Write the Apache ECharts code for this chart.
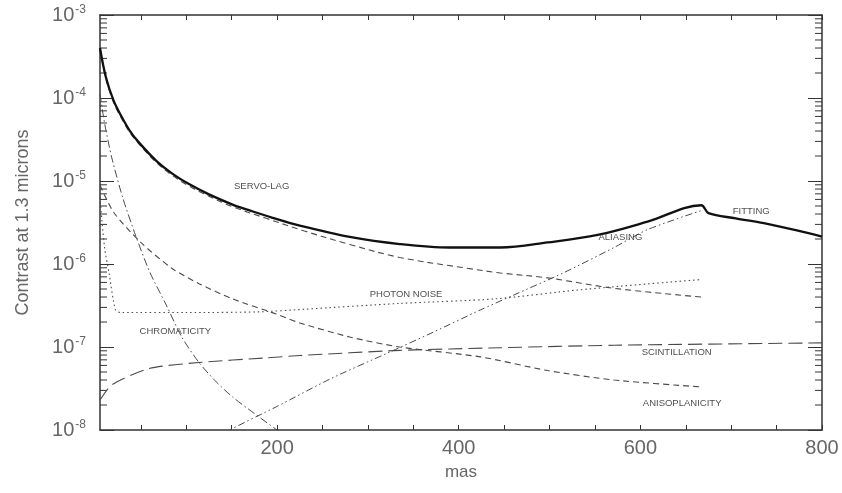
<!DOCTYPE html>
<html><head><meta charset="utf-8">
<script src="https://cdn.jsdelivr.net/npm/echarts@6/dist/echarts.min.js"></script>
<style>html,body{margin:0;padding:0;background:#fff}#c{width:842px;height:493px}</style>
</head><body><div id="c"></div>
<script>
// ---- data (x in mas, y = contrast) ----
const totalX = [5, 11.5, 20, 29, 38, 48, 67, 85, 103, 125, 151, 169, 195, 225, 280, 335, 390, 446, 498, 553, 608, 667, 675, 705, 736, 770, 800];
const totalY = [4.0e-4, 1.78e-4, 9.3e-5, 5.9e-5, 4.0e-5, 2.9e-5, 1.75e-5, 1.22e-5, 9.2e-6, 6.9e-6, 5.2e-6, 4.45e-6, 3.6e-6, 2.9e-6, 2.12e-6, 1.74e-6, 1.58e-6, 1.58e-6, 1.82e-6, 2.24e-6, 3.24e-6, 5.1e-6, 4.1e-6, 3.55e-6, 3.1e-6, 2.57e-6, 2.14e-6];

const servoX = [5, 11.5, 20, 29, 38, 48, 67, 85, 103, 125, 151, 188, 230, 280, 335, 409, 446, 498, 571, 667];
const servoY = [3.8e-4, 1.7e-4, 8.8e-5, 5.6e-5, 3.8e-5, 2.78e-5, 1.67e-5, 1.16e-5, 8.7e-6, 6.55e-6, 4.9e-6, 3.55e-6, 2.5e-6, 1.72e-6, 1.2e-6, 8.9e-7, 7.8e-7, 6.8e-7, 5.1e-7, 4.0e-7];

const chromX = [5, 10, 18, 30, 44, 60, 78, 95, 114, 133, 151, 175, 200, 215];
const chromY = [1.12e-4, 5.0e-5, 1.9e-5, 6.3e-6, 2.24e-6, 7.9e-7, 3.2e-7, 1.32e-7, 6.5e-8, 3.8e-8, 2.5e-8, 1.58e-8, 1.0e-8, 7.9e-9];

const photonX = [5, 10, 15, 22, 28, 100, 180, 230, 335, 440, 534, 667];
const photonY = [6.3e-6, 1.58e-6, 7.8e-7, 2.8e-7, 2.6e-7, 2.6e-7, 2.65e-7, 2.85e-7, 3.35e-7, 3.8e-7, 4.9e-7, 6.5e-7];

const scintX = [5, 18, 59, 114, 188, 225, 335, 446, 571, 800];
const scintY = [2.3e-8, 3.5e-8, 5.5e-8, 6.5e-8, 7.4e-8, 7.9e-8, 9.1e-8, 9.8e-8, 1.05e-7, 1.12e-7];

const anisoX = [5, 20, 50, 84, 114, 151, 199, 225, 280, 335, 424, 498, 571, 667];
const anisoY = [8.9e-6, 4.2e-6, 1.82e-6, 8.9e-7, 5.8e-7, 3.8e-7, 2.5e-7, 1.95e-7, 1.32e-7, 1.0e-7, 7.6e-8, 5.2e-8, 4.0e-8, 3.3e-8];

const aliasX = [140, 148, 199, 260, 320, 372, 424, 460, 515, 571, 608, 667];
const aliasY = [8.5e-9, 1.0e-8, 1.9e-8, 4.2e-8, 8.3e-8, 1.51e-7, 2.8e-7, 4.2e-7, 7.8e-7, 1.58e-6, 2.6e-6, 4.4e-6];

const labelNames = ['SERVO-LAG', 'ALIASING', 'FITTING', 'PHOTON NOISE', 'CHROMATICITY', 'SCINTILLATION', 'ANISOPLANICITY'];
const labelX = [183, 578, 722, 342, 88, 640, 646];
const labelY = [8.5e-6, 2.1e-6, 4.3e-6, 4.3e-7, 1.55e-7, 8.5e-8, 2.1e-8];

const xTickValues = [50, 100, 150, 200, 250, 300, 350, 400, 450, 500, 550, 600, 650, 700, 750, 800];
const xLabelValues = [200, 400, 600, 800];
const X_MIN = 5, X_MAX = 800, Y_MIN = 1e-8, Y_MAX = 1e-3;

// ---- build ----
const pair = (xs, ys) => xs.map((x, i) => [x, ys[i]]);
const minorVals = [];
for (let e = -8; e < -3; e++) for (let m = 2; m <= 9; m++) minorVals.push([X_MIN, m * Math.pow(10, e)]);

const grey = '#4a4a4a';
function lineSeries(name, xs, ys, dash, width, color, smooth) {
  return {
    name, type: 'line', data: pair(xs, ys), showSymbol: false, symbol: 'none',
    smooth: smooth || 0.25, clip: true,
    lineStyle: { color: color || grey, width: width || 1.1, type: dash || 'solid', cap: 'butt' },
    z: 3
  };
}
const axisCol = '#333';
const chart = echarts.init(document.getElementById('c'), null, { renderer: 'canvas' });
chart.setOption({
  animation: false,
  backgroundColor: '#fff',
  grid: { left: 100, right: 20, top: 15, bottom: 63, containLabel: false },
  xAxis: [{
    type: 'value', min: X_MIN, max: X_MAX, position: 'bottom',
    name: 'mas', nameLocation: 'middle', nameGap: 34,
    nameTextStyle: { fontSize: 17, color: '#666', fontFamily: 'Liberation Sans' },
    axisLine: { show: true, onZero: false, lineStyle: { color: axisCol, width: 1.5 } },
    axisTick: { show: true, inside: true, length: 5, customValues: xTickValues, lineStyle: { color: axisCol } },
    axisLabel: { customValues: xLabelValues, fontSize: 20, color: '#666', margin: 8, fontFamily: 'Liberation Sans' },
    splitLine: { show: false }
  }, {
    type: 'value', min: X_MIN, max: X_MAX, position: 'top',
    axisLine: { show: true, onZero: false, lineStyle: { color: axisCol, width: 1.5 } },
    axisTick: { show: true, inside: true, length: 5, customValues: xTickValues, lineStyle: { color: axisCol } },
    axisLabel: { show: false }, splitLine: { show: false }
  }],
  yAxis: [{
    type: 'log', logBase: 10, min: Y_MIN, max: Y_MAX, interval: 1, position: 'left',
    name: 'Contrast at 1.3 microns', nameLocation: 'middle', nameGap: 68,
    nameTextStyle: { fontSize: 18, color: '#666', fontFamily: 'Liberation Sans' },
    axisLine: { show: true, onZero: false, lineStyle: { color: axisCol, width: 1.5 } },
    axisTick: { show: true, inside: true, length: 14, lineStyle: { color: axisCol } },
    axisLabel: {
      margin: 14, color: '#666', fontFamily: 'Liberation Sans',
      formatter: v => '10{s|-' + Math.abs(Math.round(Math.log10(v))) + '}',
      rich: { s: { fontSize: 12, color: '#666', verticalAlign: 'top', padding: [0, 0, 10, 1], fontFamily: 'Liberation Sans' } },
      fontSize: 20
    },
    splitLine: { show: false }
  }, {
    type: 'log', logBase: 10, min: Y_MIN, max: Y_MAX, interval: 1, position: 'right',
    axisLine: { show: true, onZero: false, lineStyle: { color: axisCol, width: 1.5 } },
    axisTick: { show: true, inside: true, length: 14, lineStyle: { color: axisCol } },
    axisLabel: { show: false }, splitLine: { show: false }
  }],
  series: [
    lineSeries('servo-lag', servoX, servoY, [6, 4], 1.1, null, 0.35),
    lineSeries('anisoplanicity', anisoX, anisoY, [6, 4], 1.1),
    lineSeries('scintillation', scintX, scintY, [14, 6], 1.1),
    lineSeries('photon noise', photonX, photonY, [1.5, 3], 1.1),
    lineSeries('chromaticity', chromX, chromY, [8, 3, 1.5, 3], 1.0),
    lineSeries('aliasing', aliasX, aliasY, [7, 3, 1.5, 3, 1.5, 3], 1.0),
    Object.assign(lineSeries('total', totalX, totalY, 'solid', 2.3, '#111', 0.35), { z: 5 }),
    {
      type: 'scatter', symbolSize: 0, silent: true, z: 6,
      data: labelNames.map((n, i) => ({ name: n, value: [labelX[i], labelY[i]] })),
      label: { show: true, position: 'inside', formatter: p => p.name, fontSize: 9.5,
        color: '#222', fontFamily: 'Liberation Sans' }
    },
    {
      type: 'custom', silent: true, z: 2, data: minorVals,
      renderItem: (params, api) => {
        const l = api.coord([X_MIN, api.value(1)]);
        const r = api.coord([X_MAX, api.value(1)]);
        const st = { stroke: axisCol, lineWidth: 1 };
        return { type: 'group', children: [
          { type: 'line', shape: { x1: l[0], y1: l[1], x2: l[0] + 7, y2: l[1] }, style: st },
          { type: 'line', shape: { x1: r[0], y1: r[1], x2: r[0] - 7, y2: r[1] }, style: st }
        ] };
      }
    }
  ]
});
</script>
</body></html>
